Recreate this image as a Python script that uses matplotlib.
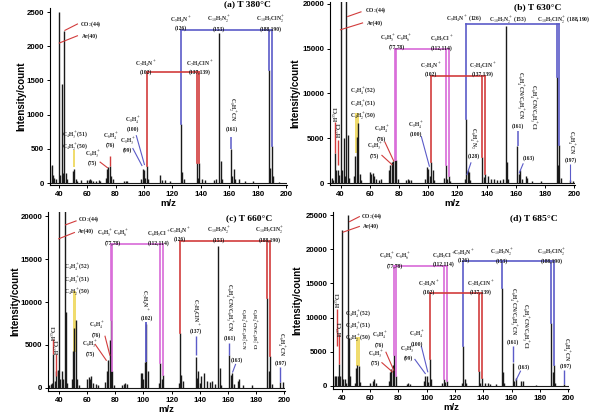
import matplotlib
matplotlib.use('Agg')
import matplotlib.pyplot as plt
from matplotlib.patches import Rectangle

plt.rcParams['mathtext.fontset'] = 'stix'

# ---------------- data ----------------
mz_a = [33, 34, 35, 36, 37, 38, 40, 41, 42, 43, 44, 45, 46, 50, 51, 52, 53, 56, 60, 61, 62, 63, 64, 66,
        68, 69, 73, 74, 75, 76, 77, 78, 86, 87, 88, 98, 99, 100, 101, 102, 103, 111, 113, 115, 118,
        126, 127, 128, 137, 138, 139, 141, 143, 149, 151, 153, 154, 155, 161, 162, 163, 164, 167,
        171, 177, 188, 189, 190, 191, 195]
int_a = [1300, 250, 260, 120, 80, 60, 2500, 120, 1450, 140, 2230, 150, 60, 170, 200, 60, 30, 40, 40, 50,
         60, 50, 30, 25, 40, 25, 80, 200, 240, 250, 110, 60, 30, 35, 25, 60, 200, 190, 80, 250, 60,
         120, 40, 50, 30, 860, 160, 60, 300, 80, 300, 60, 40, 50, 60, 2200, 320, 60, 500, 100, 200,
         60, 60, 30, 30, 1650, 220, 540, 100, 20]

mz_b = [33, 34, 35, 36, 37, 38, 39, 40, 41, 42, 43, 44, 45, 46, 49, 50, 51, 52, 53, 54, 60, 61, 62, 63,
        64, 66, 68, 73, 74, 75, 76, 77, 78, 79, 85, 86, 87, 88, 98, 99, 100, 101, 102, 103, 104, 111,
        112, 113, 114, 115, 125, 126, 127, 128, 129, 137, 138, 139, 141, 143, 145, 147, 149, 151, 153,
        154, 155, 161, 162, 163, 164, 167, 168, 171, 177, 188, 189, 190, 191, 197, 199]
int_b = [400, 600, 300, 3300, 1500, 1450, 900, 24000, 1400, 5000, 800, 24000, 5400, 600, 800, 3000, 5100,
         6700, 1000, 300, 1200, 1000, 1100, 800, 400, 300, 400, 1500, 2000, 2400, 2500, 2600, 2600, 500,
         300, 400, 350, 300, 500, 1800, 1600, 800, 2300, 1500, 300, 600, 2000, 500, 800, 200, 500, 7200,
         1500, 1200, 300, 2900, 700, 1000, 800, 500, 400, 300, 300, 400, 17500, 2300, 400, 4100, 1000,
         1500, 400, 800, 600, 200, 200, 11800, 2000, 4300, 600, 300, 200]

mz_c = [33, 34, 35, 36, 37, 38, 39, 40, 41, 42, 43, 44, 45, 46, 49, 50, 51, 52, 53, 54, 60, 61, 62, 63,
        64, 66, 68, 73, 74, 75, 76, 77, 78, 79, 85, 86, 87, 88, 98, 99, 100, 101, 102, 103, 111, 112,
        113, 114, 125, 126, 127, 128, 137, 138, 139, 140, 141, 143, 145, 147, 149, 151, 153, 154, 155,
        161, 162, 163, 164, 167, 168, 171, 177, 188, 189, 190, 191, 197, 199]
int_c = [300, 500, 600, 4000, 800, 2000, 2100, 24000, 1000, 2000, 1000, 24000, 8800, 600, 1000, 4300,
         7000, 7900, 1000, 300, 1000, 1300, 1000, 1400, 600, 500, 400, 700, 2000, 3300, 5600, 7900, 2000,
         400, 300, 500, 600, 500, 1700, 1800, 1000, 3000, 7400, 2000, 600, 2900, 1000, 1500, 600, 6400,
         1500, 800, 3600, 1200, 2000, 600, 1400, 1800, 800, 700, 800, 500, 16500, 2300, 400, 3800, 1500,
         1800, 500, 800, 1100, 300, 300, 10500, 2000, 3700, 500, 700, 700]

mz_d = [33, 34, 35, 36, 37, 38, 39, 40, 41, 42, 43, 44, 45, 46, 49, 50, 51, 52, 53, 60, 62, 63, 64, 73,
        74, 75, 76, 77, 78, 86, 87, 88, 98, 99, 100, 101, 102, 103, 111, 112, 113, 114, 125, 126, 127,
        128, 137, 138, 139, 141, 143, 145, 149, 153, 154, 155, 161, 162, 163, 167, 168, 177, 188, 189,
        190, 191, 197]
int_d = [300, 1500, 1500, 1500, 1500, 3200, 1500, 22800, 1000, 1000, 500, 25000, 7000, 1500, 500, 2700,
         3000, 2900, 600, 400, 800, 1000, 400, 800, 2000, 2500, 3000, 4600, 1500, 300, 400, 300, 800,
         1500, 1500, 600, 4000, 1000, 400, 1000, 600, 700, 500, 5800, 1000, 400, 2200, 500, 1200, 500,
         400, 300, 300, 14300, 2000, 400, 3300, 800, 1200, 800, 700, 200, 9200, 2000, 3000, 400, 300]

titles = ['(a) T 380°C', '(b) T 630°C', '(c) T 660°C', '(d) T 685°C']
yticks_a = [0, 500, 1000, 1500, 2000, 2500]
yticks_bc = [0, 5000, 10000, 15000, 20000]
yticks_d = [0, 5000, 10000, 15000, 20000, 25000]
xticks = [40, 60, 80, 100, 120, 140, 160, 180, 200]

BLUE = '#5b5bc8'
RED = '#d23c3c'
MAG = '#d86ad8'
YEL = '#f0dc6e'
INK = '#1a1a1a'
SERIF = 'Liberation Serif'
SANS = 'Liberation Sans'
FS = 4.0


def lab(ax, x, y, s, ha='center', va='center', rot=0, fs=FS):
    ax.text(x, y, s, ha=ha, va=va, rotation=rot, fontsize=fs, family=SERIF,
            fontweight='bold', color=INK, clip_on=False)


def vlab(ax, x, y_bottom, s, fs=FS):
    # vertical (rotated) label whose lower end sits at y_bottom
    ax.text(x, y_bottom, s, ha='center', va='bottom', rotation=-90, fontsize=fs,
            family=SERIF, fontweight='bold', color=INK, clip_on=False, linespacing=1.0)


def seg(ax, x0, y0, x1, y1, c, lw=0.8):
    ax.plot([x0, x1], [y0, y1], color=c, lw=lw, solid_capstyle='butt')


def bracket(ax, mzs, inten, xs, level, c, lw=1.2):
    d = dict(zip(mzs, inten))
    for x in xs:
        ax.plot([x, x], [min(d.get(x, 0), level), level], color=c, lw=lw)
    ax.plot([min(xs), max(xs)], [level, level], color=c, lw=lw)


def setup(ax, mz, inten, xlim, ylim, yt, title, tpos, ylab_x):
    ax.vlines(mz, 0, inten, color=INK, lw=1.0)
    ax.plot([xlim[0], xlim[1]], [0, 0], color=INK, lw=0.8)
    ax.set_xlim(*xlim)
    ax.set_ylim(*ylim)
    ax.set_xticks(xticks)
    ax.set_yticks(yt)
    for s in ['top', 'right']:
        ax.spines[s].set_visible(False)
    for s in ['left', 'bottom']:
        ax.spines[s].set_linewidth(0.8)
    ax.tick_params(direction='out', length=2.5, width=0.7, labelsize=5.7, pad=1.5)
    for t in ax.get_xticklabels() + ax.get_yticklabels():
        t.set_family(SANS)
        t.set_fontweight('bold')
    ax.set_xlabel('m/z', fontsize=6.8, family=SANS, fontweight='bold', labelpad=1)
    ax.set_ylabel('Intensity/count', fontsize=7, family=SANS, fontweight='bold')
    ax.yaxis.set_label_coords(ylab_x, 0.5)
    ax.text(tpos[0], tpos[1], title, transform=ax.transAxes, fontsize=6.8, family=SERIF,
            fontweight='bold', ha='center', va='center', clip_on=False)


fig = plt.figure(figsize=(6, 4.18), dpi=100)
axa = fig.add_axes([0.083, 0.5574, 0.395, 0.4234])
axb = fig.add_axes([0.550, 0.5574, 0.408, 0.4378])
axc = fig.add_axes([0.080, 0.0646, 0.395, 0.4282])
axd = fig.add_axes([0.555, 0.0694, 0.393, 0.4234])

setup(axa, mz_a, int_a, (33.7, 200.5), (-29, 2560), yticks_a, titles[0], (0.835, 1.02), -0.10)
setup(axb, mz_b, int_b, (32.7, 200.5), (-223, 20220), yticks_bc, titles[1], (0.85, 0.972), -0.12)
setup(axc, mz_c, int_c, (32.2, 200.5), (-349, 20465), yticks_bc, titles[2], (0.85, 0.966), -0.116)
setup(axd, mz_d, int_d, (33.7, 200.5), (-439, 25440), yticks_d, titles[3], (0.85, 0.966), -0.13)

# ---------------- panel (a) ----------------
ax = axa
seg(ax, 44, 2230, 53.5, 2330, RED); lab(ax, 55, 2330, r'CO$_2$(44)', ha='left')
seg(ax, 40, 2045, 53.5, 2157, RED); lab(ax, 56, 2150, 'Ar(40)', ha='left')
bracket(ax, mz_a, int_a, [126, 188, 190], 2245, BLUE)
bracket(ax, mz_a, int_a, [102, 137, 139], 1622, RED)
lab(ax, 126, 2340, 'C$_9$H$_4$N$^+$\n(126)')
lab(ax, 153, 2340, 'C$_{10}$H$_5$N$_2^+$\n(153)')
lab(ax, 189, 2340, 'C$_{10}$H$_5$ClN$_2^+$\n(188,190)')
lab(ax, 101.5, 1700, 'C$_7$H$_4$N$^+$\n(102)')
lab(ax, 139, 1700, 'C$_7$H$_4$ClN$^+$\n(137,139)')
vlab(ax, 161.6, 900, r'C$_8$H$_2^+$CN')
lab(ax, 161.6, 794, '(161)')
seg(ax, 161, 500, 161, 680, BLUE, 1.1)
lab(ax, 92, 870, 'C$_8$H$_4^+$\n(100)')
seg(ax, 94.5, 700, 100.4, 263, BLUE)
lab(ax, 88.4, 565, 'C$_8$H$_3^+$\n(99)')
seg(ax, 92, 512, 98.7, 249, BLUE)
lab(ax, 76.5, 640, 'C$_6$H$_4^+$\n(76)')
seg(ax, 76.3, 250, 76.3, 400, RED, 1.0)
lab(ax, 64, 375, 'C$_6$H$_3^+$\n(75)')
seg(ax, 68.8, 311, 74.6, 219, RED)
lab(ax, 51.2, 620, 'C$_4$H$_3^+$(51)\nC$_4$H$_2^+$(50)')
ax.add_patch(Rectangle((49.8, 234), 1.4, 250, color=YEL, lw=0))

# ---------------- panel (b) ----------------
ax = axb
seg(ax, 44.5, 18580, 54.3, 19140, RED); lab(ax, 56.5, 19330, r'CO$_2$(44)', ha='left')
seg(ax, 39.5, 17100, 55.4, 17900, RED); lab(ax, 57.7, 17900, 'Ar(40)', ha='left')
bracket(ax, mz_b, int_b, [126, 188, 190], 17765, BLUE)
bracket(ax, mz_b, int_b, [77, 78, 112, 114], 14940, MAG)
bracket(ax, mz_b, int_b, [102, 137, 139], 11955, RED)
lab(ax, 112.3, 18290, 'C$_9$H$_4$N$^+$ (126)', ha='left')
lab(ax, 141.8, 18290, 'C$_{10}$H$_5$N$_2^+$ (153)', ha='left')
lab(ax, 174.5, 18290, 'C$_{10}$H$_5$ClN$_2^+$ (188,190)', ha='left')
lab(ax, 78.2, 15850, 'C$_6$H$_5^+$ C$_6$H$_6^+$\n(77,78)')
lab(ax, 109.3, 15700, 'C$_6$H$_5$Cl$^+$\n(112,114)')
lab(ax, 102, 12750, 'C$_7$H$_4$N$^+$\n(102)')
lab(ax, 137.7, 12750, 'C$_7$H$_4$ClN$^+$\n(137,139)')
vlab(ax, 162.3, 7100, r'C$_6$H$_4^+$CN/C$_6$H$_3^+$CN')
lab(ax, 161.8, 6350, '(161)')
seg(ax, 161.5, 4100, 161.5, 5800, BLUE, 1.1)
vlab(ax, 171.4, 5900, r'C$_6$H$_4^+$CN/C$_6$H$_3^+$Cl')
lab(ax, 169, 2830, '(163)')
seg(ax, 165.2, 2200, 162.3, 1080, BLUE)
vlab(ax, 197.6, 3200, r'C$_6$H$_4^+$CN')
lab(ax, 197.6, 2550, '(197)')
seg(ax, 197, 110, 197, 2100, BLUE)
vlab(ax, 130.5, 3700, r'C$_6$H$_4^+$N$_2$')
lab(ax, 131.6, 3010, '(128)')
seg(ax, 129.4, 2310, 126.5, 890, BLUE)
lab(ax, 91.8, 6100, 'C$_8$H$_4^+$\n(100)')
seg(ax, 95.2, 5250, 100.9, 1820, BLUE)
lab(ax, 68, 5600, 'C$_6$H$_4^+$\n(76)')
seg(ax, 70.2, 4620, 76.6, 2380, RED)
lab(ax, 63.4, 3720, 'C$_6$H$_3^+$\n(75)')
seg(ax, 68, 3130, 75.5, 2010, RED)
lab(ax, 46.3, 8900, 'C$_4$H$_4^+$(52)\nC$_4$H$_3^+$(51)\nC$_4$H$_2^+$(50)', ha='left')
ax.add_patch(Rectangle((49.6, 3350), 2.8, 4450, color=YEL, lw=0))
seg(ax, 36, 3350, 36, 6850, RED, 1.0)
lab(ax, 36.8, 7700, r'H$^{35}$Cl', rot=90)
seg(ax, 38, 2000, 38, 4800, RED, 1.0)
lab(ax, 38.8, 5900, r'H$^{37}$Cl', rot=90)

# ---------------- panel (c) ----------------
ax = axc
seg(ax, 44.3, 18950, 52.5, 19450, RED); lab(ax, 53.5, 19650, r'CO$_2$(44)', ha='left')
seg(ax, 39.5, 17330, 51.3, 18100, RED); lab(ax, 53.5, 18220, 'Ar(40)', ha='left')
bracket(ax, mz_c, int_c, [126, 188, 190], 17130, RED)
bracket(ax, mz_c, int_c, [77, 78, 112, 114], 16740, MAG)
lab(ax, 78, 17600, 'C$_6$H$_5^+$ C$_6$H$_6^+$\n(77,78)')
lab(ax, 111, 17500, 'C$_6$H$_5$Cl$^+$\n(112,114)')
lab(ax, 125.8, 17900, 'C$_9$H$_4$N$^+$\n(126)')
lab(ax, 153.3, 17900, 'C$_{10}$H$_5$N$_2^+$\n(153)')
lab(ax, 189.4, 17900, 'C$_{10}$H$_5$ClN$_2^+$\n(188,190)')
vlab(ax, 100.8, 8900, r'C$_7$H$_4$N$^+$')
lab(ax, 102.2, 8150, '(102)')
seg(ax, 101.6, 3000, 101.6, 7650, BLUE, 1.3)
vlab(ax, 137, 7300, r'C$_7$H$_4$ClN$^+$')
lab(ax, 137, 6600, '(137)')
seg(ax, 137, 3840, 137, 6050, BLUE, 1.0)
vlab(ax, 160.6, 6500, r'C$_6$H$_4^+$CN/C$_6$H$_3^+$CN')
lab(ax, 161, 5800, '(161)')
seg(ax, 161, 3800, 161, 5250, BLUE, 1.0)
vlab(ax, 174.0, 4400, 'C$_6$H$_4^+$CN/C$_6$H$_3^+$Cl\nC$_6$H$_4^+$Cl/C$_6$H$_3^+$CN', fs=3.6)
lab(ax, 166.5, 3300, '(163)')
seg(ax, 165.5, 2800, 163.2, 1800, BLUE)
vlab(ax, 197.5, 3650, r'C$_6$H$_4^+$CN')
lab(ax, 197.5, 2950, '(197)')
seg(ax, 197, 700, 197, 2400, BLUE, 1.0)
lab(ax, 66.7, 6860, 'C$_6$H$_4^+$\n(76)')
seg(ax, 72.6, 6080, 76.2, 3760, RED)
lab(ax, 62, 4670, 'C$_6$H$_3^+$\n(75)')
seg(ax, 65.5, 5120, 73.8, 3170, RED)
lab(ax, 52.5, 12670, 'C$_4$H$_4^+$(52)\nC$_4$H$_3^+$(51)\nC$_4$H$_2^+$(50)')
ax.add_patch(Rectangle((49.6, 4150), 2.8, 7160, color=YEL, lw=0))
seg(ax, 36, 3950, 36, 5700, RED, 1.0)
lab(ax, 36.8, 6400, r'H$^{35}$Cl', rot=90)
seg(ax, 38, 1400, 38, 3950, RED, 1.0)
lab(ax, 38.8, 4770, r'H$^{37}$Cl', rot=90)

# ---------------- panel (d) ----------------
ax = axd
seg(ax, 45.1, 24000, 52.7, 24800, RED); lab(ax, 53.5, 24900, r'CO$_2$(44)', ha='left')
seg(ax, 40.5, 22470, 52.7, 23350, RED); lab(ax, 55, 23350, 'Ar(40)', ha='left')
bracket(ax, mz_d, int_d, [126, 153, 188, 190], 18320, BLUE)
bracket(ax, mz_d, int_d, [77, 78, 112, 114], 17500, MAG)
bracket(ax, mz_d, int_d, [102, 137, 139], 13600, RED)
lab(ax, 77.3, 18520, 'C$_6$H$_5^+$ C$_6$H$_6^+$\n(77,78)')
lab(ax, 111.8, 18570, 'C$_6$H$_5$Cl$^+$\n(112,114)')
lab(ax, 126.1, 19100, 'C$_9$H$_4$N$^+$\n(126)')
lab(ax, 153.3, 19100, 'C$_{10}$H$_5$N$_2^+$\n(153)')
lab(ax, 188.4, 19100, 'C$_{10}$H$_5$ClN$_2^+$\n(188,190)')
lab(ax, 101.5, 14500, 'C$_7$H$_4$N$^+$\n(102)')
lab(ax, 138, 14500, 'C$_7$H$_4$ClN$^+$\n(137,139)')
vlab(ax, 160.6, 7300, r'C$_6$H$_4^+$CN/C$_6$H$_3^+$CN')
lab(ax, 160.6, 6390, '(161)')
seg(ax, 161, 3460, 161, 5850, BLUE, 1.0)
vlab(ax, 168.9, 5400, r'C$_6$H$_4^+$CN/C$_6$H$_3^+$Cl')
lab(ax, 168.9, 2730, '(163)')
seg(ax, 166.5, 2240, 163, 780, BLUE)
vlab(ax, 198.2, 3600, r'C$_6$H$_4^+$CN')
lab(ax, 198.2, 2850, '(197)')
seg(ax, 197, 290, 197, 2380, BLUE, 1.0)
lab(ax, 93, 6980, 'C$_8$H$_4^+$\n(100)')
seg(ax, 96.1, 5890, 100.8, 2000, BLUE)
lab(ax, 86.7, 4910, 'C$_8$H$_3^+$\n(99)')
seg(ax, 91.4, 3950, 99.2, 1750, BLUE)
lab(ax, 66.8, 6860, 'C$_6$H$_4^+$\n(76)')
seg(ax, 71, 5010, 76.8, 2240, RED)
lab(ax, 64, 4190, 'C$_6$H$_3^+$\n(75)')
seg(ax, 68, 3460, 76.1, 2000, RED)
lab(ax, 51.5, 8820, 'C$_4$H$_4^+$(52)\nC$_4$H$_3^+$(51)\nC$_4$H$_2^+$(50)')
ax.add_patch(Rectangle((49.9, 2970), 3.0, 4150, color=YEL, lw=0))
seg(ax, 36.3, 5890, 36.3, 11260, RED, 1.0)
lab(ax, 37.1, 12600, r'H$^{35}$Cl', rot=90)
seg(ax, 38.2, 3200, 38.2, 7600, RED, 1.0)
lab(ax, 39.0, 8330, r'H$^{37}$Cl', rot=90)

fig.savefig('out.png', dpi=100)
